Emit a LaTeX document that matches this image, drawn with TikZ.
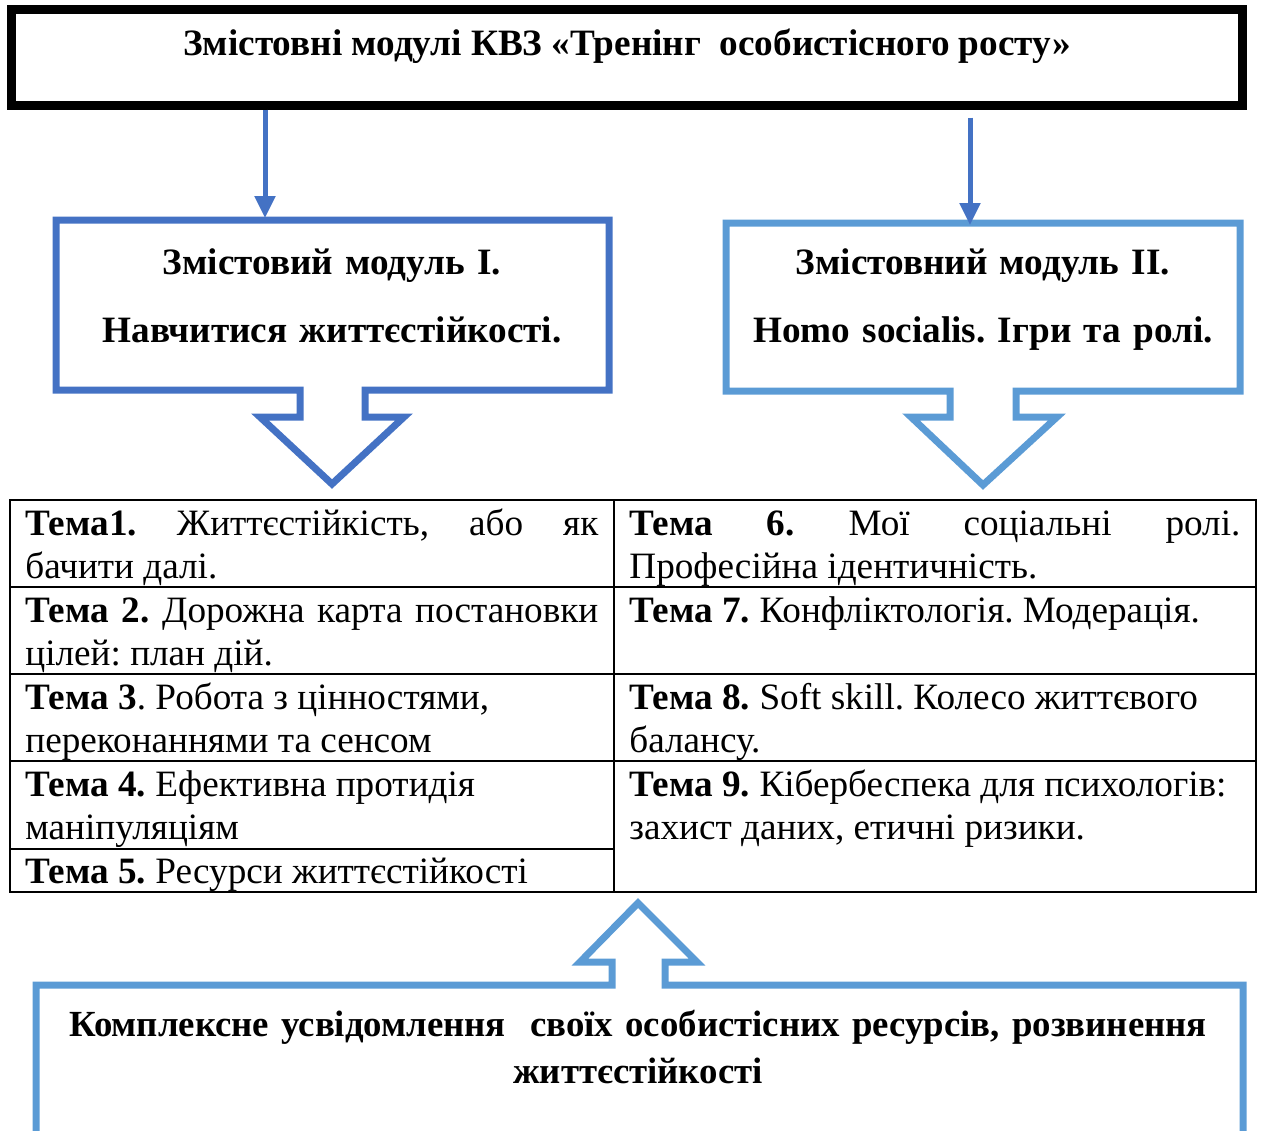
\documentclass[tikz,border=0pt]{standalone}
\usepackage{fontspec}
\setmainfont{Liberation Serif}
\usetikzlibrary{arrows.meta}
\definecolor{modblue}{HTML}{4472C4}
\definecolor{skyblue}{HTML}{5B9BD5}
\frenchspacing

\begin{document}
\begin{tikzpicture}[x=0.5pt, y=-0.5pt,
	titlebox/.style={draw=black, line width=4.5pt, minimum width=615.5pt, minimum height=48pt, inner sep=0pt},
	callI/.style={draw=modblue, line width=3.5pt, line join=miter},
	callII/.style={draw=skyblue, line width=3.5pt, line join=miter},
	link/.style={draw=modblue, line width=2.5pt, -{Triangle[length=11pt,width=10pt]}},
	cell/.style={draw=black, line width=1pt},
	modtext/.style={anchor=base, inner sep=0pt, text width=275pt, align=center, font=\bfseries\fontsize{18.6}{34}\selectfont},
	temaL/.style={anchor=base west, inner sep=0pt, text width=286.5pt, align=justify, font=\fontsize{18.6}{21.5}\selectfont},
	temaR/.style={anchor=base west, inner sep=0pt, text width=305.5pt, align=justify, font=\fontsize{18.6}{21.5}\selectfont}]
	\useasboundingbox (0,0) rectangle (1262,1130);
	% title
	\node[titlebox] (title) at (626.5,57) {};
	\node[font=\bfseries\fontsize{18.6}{22}\selectfont, inner sep=0pt] (titletxt) at (627,46) {Змістовні модулі КВЗ «Тренінг\ \ особистісного росту»};
	% module I
	\draw[callI] (56,220) -- (609,220) -- (609,390) -- (365,390) -- (365,417) -- (404,417)
		-- (332,484) -- (260,417) -- (300,417) -- (300,390) -- (56,390) -- cycle;
	\node[modtext] (modI) at (332,274) {Змістовий модуль І.\\Навчитися життєстійкості.};
	\coordinate (topI) at (265,218);
	\draw[link] (title.south -| topI) -- (topI);
	% module II
	\draw[callII] (726,223) -- (1240,223) -- (1240,391) -- (1016,391) -- (1016,417) -- (1057,417)
		-- (983,485) -- (911,417) -- (950,417) -- (950,391) -- (726,391) -- cycle;
	\node[modtext] (modII) at (983,274) {Змістовний модуль ІІ.\\Homo socialis. Ігри та ролі.};
	\coordinate (topII) at (970,225);
	\draw[link, shorten <=4pt] (title.south -| topII) -- (topII);
	% table
	\draw[cell] (10,500) rectangle (1256,892);
	\draw[cell] (614,500) -- (614,892);
	\foreach \y in {587,674,761}
		\draw[cell] (10,\y) -- (1256,\y);
	\draw[cell] (10,849) -- (614,849);
	\node[temaL] (t1) at (25,535) {\textbf{Тема1.} Життєстійкість, або як\linebreak бачити далі.};
	\node[temaL] (t2) at (25,622) {\textbf{Тема 2.} Дорожна карта постановки\linebreak цілей: план дій.};
	\node[temaL] (t3) at (25,709) {\textbf{Тема 3}. Робота з цінностями,\newline переконаннями та сенсом};
	\node[temaL] (t4) at (25,796) {\textbf{Тема 4.} Ефективна протидія\newline маніпуляціям};
	\node[temaL] (t5) at (25,883) {\textbf{Тема 5.} Ресурси життєстійкості};
	\node[temaR] (t6) at (629,535) {\textbf{Тема 6.} Мої соціальні ролі.\linebreak Професійна ідентичність.};
	\node[temaR] (t7) at (629,622) {\textbf{Тема 7.} Конфліктологія. Модерація.};
	\node[temaR] (t8) at (629,709) {\textbf{Тема 8.} Soft skill. Колесо життєвого\newline балансу.};
	\node[temaR] (t9) at (629,796) {\textbf{Тема 9.} Кібербеспека для психологів:\newline захист даних, етичні ризики.};
	% result
	\draw[callII] (36,985) -- (612,985) -- (612,962) -- (580,962) -- (638,903) -- (697,962)
		-- (665,962) -- (665,985) -- (1243,985) -- (1243,1145) -- (36,1145) -- cycle;
	\node[anchor=base, inner sep=0pt, text width=600pt, align=center, font=\bfseries\fontsize{18.4}{23.5}\selectfont] (result) at (638,1036)
		{Комплексне усвідомлення\ \ своїх особистісних ресурсів, розвинення\\життєстійкості};
\end{tikzpicture}
\end{document}
